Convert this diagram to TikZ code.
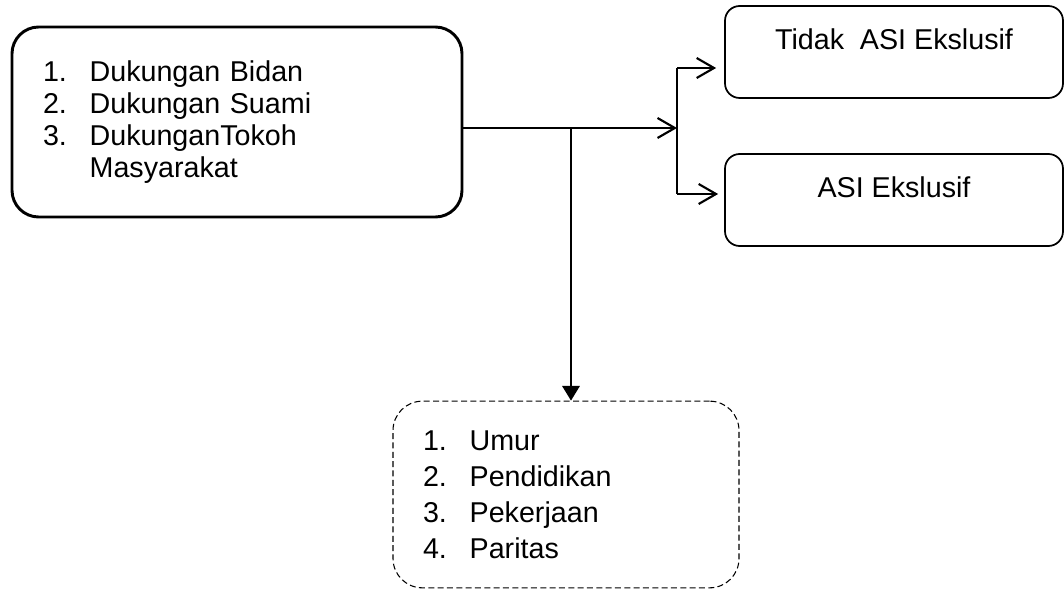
\documentclass[tikz,border=0pt]{standalone}
\usepackage{fontspec}
\setmainfont{Liberation Sans}
\usetikzlibrary{positioning, arrows.meta, calc}

\begin{document}
\begin{tikzpicture}[
  x=0.75pt, y=-0.75pt,
  >={Straight Barb[length=13pt,width=15pt]},
  every node/.style={font=\fontsize{21.5pt}{24pt}\selectfont},
  indep/.style={
    rectangle, rounded corners=20pt, draw=black, line width=2.2pt,
    minimum width=337.5pt, minimum height=142.5pt,
    text width=291pt, inner xsep=23pt, align=left
  },
  outcome/.style={
    rectangle, rounded corners=11pt, draw=black, line width=1.3pt,
    minimum width=253.5pt, inner ysep=0pt,
    text height=33pt, text depth=36pt, align=center
  },
  confound/.style={
    rectangle, rounded corners=22pt, draw=black, line width=0.8pt,
    dash pattern=on 4.5pt off 2.5pt,
    minimum width=259.5pt, minimum height=140pt,
    text width=214.5pt, inner xsep=22.5pt, align=left,
    font=\fontsize{21.5pt}{27pt}\selectfont
  },
  link/.style={line width=1.6pt},
]

\useasboundingbox (0,0) rectangle (1064,591);

% Independent variables
\node[indep] (dukungan) at (237,122)
  {\makebox[35pt][l]{1.}Dukungan Bidan\\
   \makebox[35pt][l]{2.}Dukungan Suami\\
   \makebox[35pt][l]{3.}DukunganTokoh\\
   \makebox[35pt][l]{}Masyarakat};

% Outcomes
\node[outcome] (tidak) at (894,52) {Tidak\ \ ASI Ekslusif};
\node[outcome] (asi) at (894,200) {ASI Ekslusif};

% Confounders
\node[confound] (faktor) at (566,494.5)
  {\makebox[35pt][l]{1.}Umur\\
   \makebox[35pt][l]{2.}Pendidikan\\
   \makebox[35pt][l]{3.}Pekerjaan\\
   \makebox[35pt][l]{4.}Paritas};

% Branch points
\coordinate (split) at (677,128);
\coordinate (drop) at (571,128);
\coordinate (upper) at (677,68);
\coordinate (lower) at (677,194);

% Arrows
\draw[link, ->] (dukungan.east |- split) -- (split);
\draw[link] (upper) -- (lower);
\draw[link, ->, shorten >=6pt] (upper) -- (upper -| tidak.west);
\draw[link, ->, shorten >=4.5pt] (lower) -- (lower -| asi.west);
\draw[link, -{Triangle[length=11pt,width=13pt]}] (drop) -- (drop |- faktor.north);

\end{tikzpicture}
\end{document}
